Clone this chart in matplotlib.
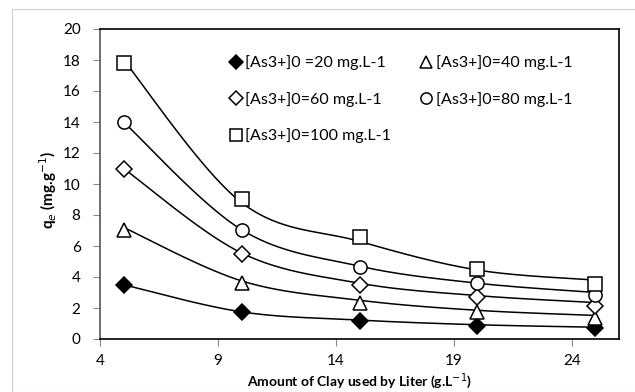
import numpy as np
import matplotlib.pyplot as plt
from matplotlib.patches import Rectangle

# podaci procitani sa slike
doza = [5, 10, 15, 20, 25]  # g/L
labels = ["[As3+]0 =20 mg.L-1", "[As3+]0=40 mg.L-1", "[As3+]0=60 mg.L-1",
          "[As3+]0=80 mg.L-1", "[As3+]0=100 mg.L-1"]

# izmjerene vrijednosti (markeri)
qe_20 = [3.5, 1.75, 1.18, 0.84, 0.69]
qe_40 = [7.05, 3.6, 2.35, 1.72, 1.35]
qe_60 = [11.0, 5.5, 3.48, 2.7, 2.15]
qe_80 = [14.0, 7.05, 4.66, 3.6, 2.87]
qe_100 = [17.8, 9.05, 6.6, 4.5, 3.55]

# vrijednosti krivulja (modela)
fit_20 = [3.5, 1.75, 1.22, 0.92, 0.76]
fit_40 = [7.2, 3.75, 2.5, 1.85, 1.52]
fit_60 = [11.0, 5.55, 3.6, 2.8, 2.35]
fit_80 = [14.0, 7.05, 4.7, 3.6, 3.0]
fit_100 = [18.0, 8.8, 6.3, 4.45, 3.8]

markeri = ["D", "^", "D", "o", "s"]
ispune = ["black", "white", "white", "white", "white"]
velicine = [8, 9.5, 8, 9.5, 10]


def glatko(x, y, n=40):
    # Excel-ov "smoothed line" (Catmull-Rom kroz Bezier)
    x = np.asarray(x, float)
    y = np.asarray(y, float)
    px = np.concatenate([[x[0]], x, [x[-1]]])
    py = np.concatenate([[y[0]], y, [y[-1]]])
    xs, ys = [], []
    t = np.linspace(0, 1, n)
    for i in range(1, len(px) - 2):
        p0 = np.array([px[i], py[i]])
        p3 = np.array([px[i + 1], py[i + 1]])
        p1 = p0 + (np.array([px[i + 1], py[i + 1]]) - np.array([px[i - 1], py[i - 1]])) / 6
        p2 = p3 - (np.array([px[i + 2], py[i + 2]]) - np.array([px[i], py[i]])) / 6
        b = ((1 - t) ** 3)[:, None] * p0 + (3 * (1 - t) ** 2 * t)[:, None] * p1 \
            + (3 * (1 - t) * t ** 2)[:, None] * p2 + (t ** 3)[:, None] * p3
        xs.extend(b[:, 0])
        ys.extend(b[:, 1])
    return xs, ys


plt.rcParams['font.family'] = ['Lato', 'DejaVu Sans']

fig = plt.figure(figsize=(6.35, 3.92), dpi=100)
fig.patches.append(Rectangle((12 / 635, 0), 1, 1 - 9 / 392, transform=fig.transFigure,
                             fill=False, edgecolor="#d0d0d0", linewidth=0.8))
ax = fig.add_axes([100 / 635, 53 / 392, 519 / 635, 310 / 392])

mjerenja = [qe_20, qe_40, qe_60, qe_80, qe_100]
krivulje = [fit_20, fit_40, fit_60, fit_80, fit_100]

handles = []
for i in range(5):
    gx, gy = glatko(doza, krivulje[i])
    ax.plot(gx, gy, color="black", linewidth=1.1)
    h, = ax.plot(doza, mjerenja[i], linestyle="none", marker=markeri[i],
                 markersize=velicine[i], markerfacecolor=ispune[i],
                 markeredgecolor="black", markeredgewidth=1.1, label=labels[i])
    handles.append(h)

ax.set_xlim(4, 26)
ax.set_ylim(0, 20)
ax.set_xticks([4, 9, 14, 19, 24])
ax.set_yticks(range(0, 21, 2))
ax.tick_params(axis="x", direction="out", length=5, pad=6, labelsize=11, color="#888888")
ax.tick_params(axis="y", direction="out", length=5, pad=9, labelsize=11, color="#888888")
for s in ax.spines.values():
    s.set_linewidth(1.2)
ax.spines["left"].set_color("#555555")

fig.text((100 + 519 / 2) / 635, 1 - 381 / 392, "Amount of Clay used by Liter (g.L$^{-1}$)",
         fontweight="bold", fontsize=10, ha="center", va="center")
fig.text(48 / 635, 1 - 190 / 392, "q$_e$ (mg.g$^{-1}$)", fontweight="bold", fontsize=11,
         rotation=90, ha="center", va="center")

# redoslijed da legenda ide po redovima
red = [0, 2, 4, 1, 3]
ax.legend([handles[k] for k in red], [labels[k] for k in red], ncol=2,
          frameon=False, fontsize=11.5, handlelength=0.6, handletextpad=0.3,
          labelspacing=1.35, columnspacing=1.9, loc="upper left", markerscale=0.85,
          bbox_to_anchor=(0.24, 0.935), borderaxespad=0)

plt.savefig("out.png", dpi=100)
